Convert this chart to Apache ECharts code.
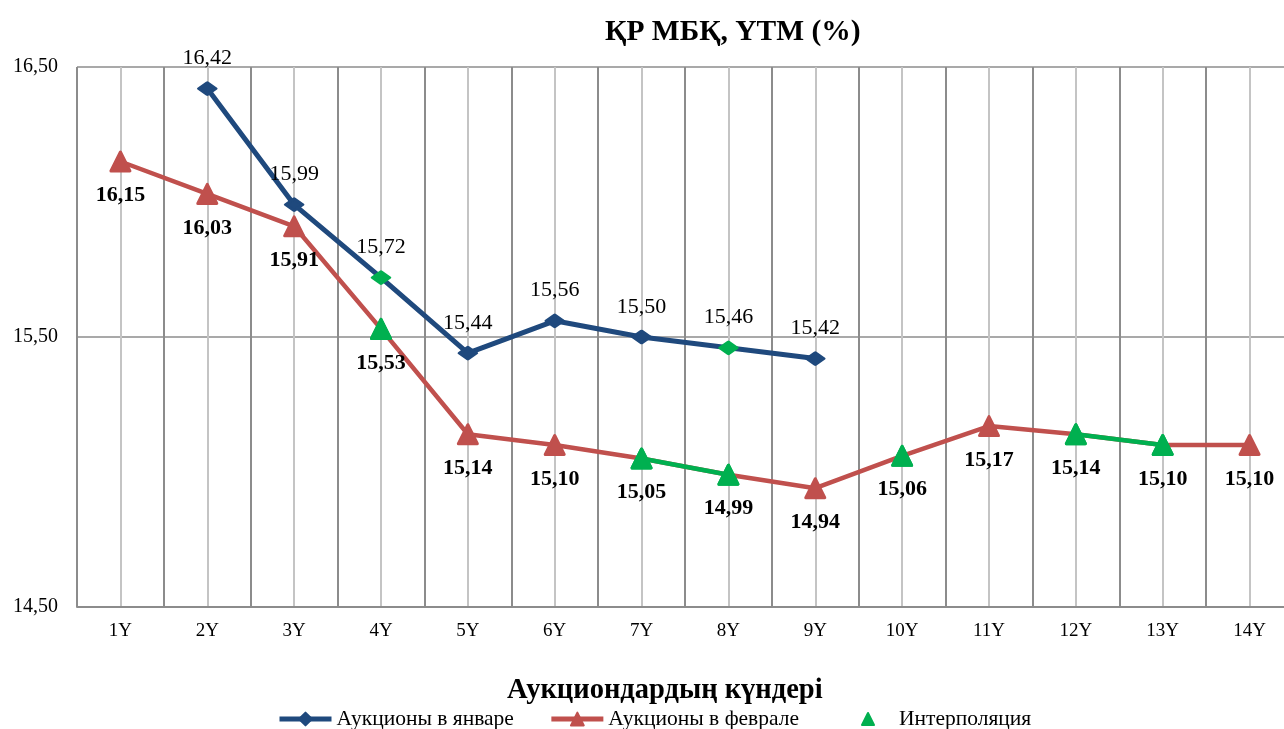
<!DOCTYPE html>
<html>
<head>
<meta charset="utf-8">
<script src="https://cdn.jsdelivr.net/npm/echarts@6/dist/echarts.min.js"></script>
<style>
  html, body { margin: 0; padding: 0; background: #fff; overflow: hidden; }
  #chart { width: 1293px; height: 729px; }
</style>
</head>
<body>
<div id="chart"></div>
<script>
const categories = ["1Y", "2Y", "3Y", "4Y", "5Y", "6Y", "7Y", "8Y", "9Y", "10Y", "11Y", "12Y", "13Y", "14Y"];
const january = [null, 16.42, 15.99, 15.72, 15.44, 15.56, 15.50, 15.46, 15.42, null, null, null, null, null];
const february = [16.15, 16.03, 15.91, 15.53, 15.14, 15.10, 15.05, 14.99, 14.94, 15.06, 15.17, 15.14, 15.10, 15.10];
// indexes of interpolated points
const janInterp = [3, 7];
const febInterp = [3, 6, 7, 9, 11, 12];

const BLUE = '#1F497D';
const RED = '#C0504D';
const GREEN = '#00B050';
const FONT = 'Liberation Serif';

const fmt = v => v.toFixed(2).replace('.', ',');

const janData = january.map((v, i) => janInterp.includes(i)
    ? { value: v, itemStyle: { color: GREEN, borderColor: GREEN } }
    : v);
const febData = february.map((v, i) => febInterp.includes(i)
    ? { value: v, itemStyle: { color: GREEN, borderColor: GREEN } }
    : v);
const interpData = february.map((v, i) => febInterp.includes(i) ? v : null);

const chart = echarts.init(document.getElementById('chart'));

const legendText = { fontFamily: FONT, fontSize: 21.5, color: '#000' };

const option = {
    animation: false,
    title: [
        {
            text: 'ҚР МБҚ, YTM (%)',
            left: 600,
            top: 12,
            textStyle: { fontFamily: FONT, fontSize: 29.5, fontWeight: 'bold', color: '#000' }
        },
        {
            text: 'Аукциондардың күндері',
            left: 502,
            top: 671,
            textStyle: { fontFamily: FONT, fontSize: 28.5, fontWeight: 'bold', color: '#000' }
        }
    ],
    legend: [
        {
            left: 277,
            top: 708,
            padding: 0,
            itemWidth: 52,
            itemHeight: 16,
            itemGap: 35,
            textStyle: legendText,
            data: [
                { name: 'Аукционы в январе', lineStyle: { width: 5 } },
                { name: 'Аукционы в феврале', lineStyle: { width: 5 } }
            ]
        },
        {
            left: 861,
            top: 708,
            padding: 0,
            itemWidth: 52,
            itemHeight: 12,
            textStyle: legendText,
            data: [
                { name: 'Интерполяция', icon: 'path://M5,0 L10,10 L0,10 Z' }
            ]
        }
    ],
    grid: {
        left: 77,
        right: 0,
        top: 67,
        bottom: 122
    },
    xAxis: [
        {
            type: 'category',
            data: categories,
            boundaryGap: true,
            axisLine: { lineStyle: { color: '#8c8c8c', width: 2 } },
            axisTick: { show: false },
            splitLine: { show: false },
            axisLabel: { fontFamily: FONT, fontSize: 19, color: '#000', margin: 15 }
        },
        {
            // helper axis: darker lines at category edges, lighter at centres
            type: 'value',
            min: 0,
            max: 28,
            interval: 1,
            show: true,
            position: 'bottom',
            axisLine: { show: false },
            axisTick: { show: false },
            axisLabel: { show: false },
            splitLine: { show: true, lineStyle: { color: ['#8c8c8c', '#c4c4c4'], width: 2 } }
        }
    ],
    yAxis: {
        type: 'value',
        min: 14.5,
        max: 16.5,
        interval: 1,
        axisLine: { show: false },
        axisTick: { show: false },
        axisLabel: { fontFamily: FONT, fontSize: 20, color: '#000', margin: 19, padding: [5, 0, 0, 0], formatter: fmt },
        splitLine: { lineStyle: { color: '#8c8c8c', width: 1.5 } }
    },
    series: [
        {
            name: 'Аукционы в январе',
            type: 'line',
            data: janData,
            symbol: 'diamond',
            symbolSize: [17, 12],
            lineStyle: { color: BLUE, width: 5 },
            itemStyle: { color: BLUE, borderColor: BLUE, borderWidth: 3, borderJoin: 'round' },
            label: {
                show: true,
                position: 'top',
                distance: 12,
                fontFamily: FONT,
                fontSize: 22,
                color: '#000',
                formatter: p => fmt(p.value)
            },
            z: 3
        },
        {
            name: 'Аукционы в феврале',
            type: 'line',
            data: febData,
            symbol: 'triangle',
            symbolSize: 19,
            lineStyle: { color: RED, width: 4.5 },
            itemStyle: { color: RED, borderColor: RED, borderWidth: 3, borderJoin: 'round' },
            label: {
                show: true,
                position: 'bottom',
                distance: 12,
                fontFamily: FONT,
                fontSize: 22,
                fontWeight: 'bold',
                color: '#000',
                formatter: p => fmt(p.value)
            },
            z: 2
        },
        {
            name: 'Интерполяция',
            type: 'line',
            data: interpData,
            connectNulls: false,
            symbol: 'triangle',
            symbolSize: 19,
            lineStyle: { color: GREEN, width: 4.5 },
            itemStyle: { color: GREEN, borderColor: GREEN, borderWidth: 3, borderJoin: 'round' },
            label: { show: false },
            z: 4
        }
    ]
};

chart.setOption(option);
window.addEventListener('resize', () => chart.resize());
</script>
</body>
</html>
